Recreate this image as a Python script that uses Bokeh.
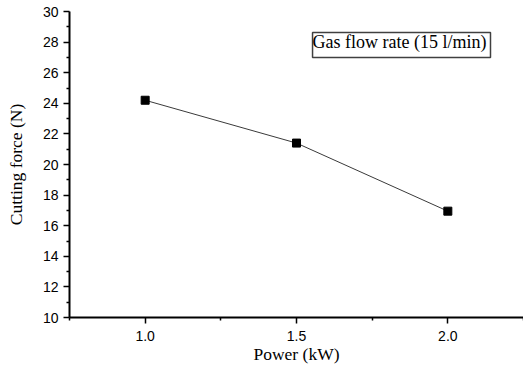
from bokeh.plotting import figure
from bokeh.models import FixedTicker, Label, Range1d
from bokeh.embed import file_html
from bokeh.resources import INLINE

# Data
power_kw = [1.0, 1.5, 2.0]
cutting_force = [24.2, 21.4, 16.95]
x_ticks = [1.0, 1.5, 2.0]
x_tick_labels = ["1.0", "1.5", "2.0"]
x_minor_ticks = [0.75, 1.25, 1.75, 2.25]
y_ticks = [10, 12, 14, 16, 18, 20, 22, 24, 26, 28, 30]
x_title = "Power (kW)"
y_title = "Cutting force (N)"
legend_text = "Gas flow rate (15 l/min)"

p = figure(width=523, height=366, output_backend="svg", toolbar_location=None,
           x_range=Range1d(0.75, 2.25), y_range=Range1d(10, 30),
           min_border_left=69, min_border_right=0, min_border_top=11, min_border_bottom=48)
p.outline_line_color = None
p.xgrid.grid_line_color = None
p.ygrid.grid_line_color = None
p.background_fill_color = "white"

p.line(power_kw, cutting_force, line_color="#3a3a3a", line_width=1)
p.scatter(power_kw, cutting_force, marker="square", size=8, fill_color="black", line_color="black")

for ax in (p.xaxis[0], p.yaxis[0]):
    ax.axis_line_color = "black"
    ax.axis_line_width = 2
    ax.major_tick_line_color = "black"
    ax.major_tick_line_width = 1.5
    ax.minor_tick_line_color = "black"
    ax.minor_tick_line_width = 1.5
    ax.major_tick_in = 0
    ax.major_tick_out = 6
    ax.minor_tick_in = 0
    ax.minor_tick_out = 3
    ax.major_label_text_font = "Liberation Sans"
    ax.major_label_text_font_size = "14px"
    ax.major_label_text_color = "black"
    ax.axis_label_text_font = "Liberation Serif"
    ax.axis_label_text_font_style = "normal"
    ax.axis_label_text_font_size = "17.5px"
    ax.axis_label_text_color = "black"

p.xaxis.ticker = FixedTicker(ticks=x_ticks, minor_ticks=x_minor_ticks)
p.xaxis.major_label_overrides = {t: l for t, l in zip(x_ticks, x_tick_labels)}
p.yaxis.ticker = FixedTicker(ticks=y_ticks, minor_ticks=[v + 1 for v in y_ticks[:-1]])
p.xaxis.axis_label = x_title
p.yaxis.axis_label = y_title
p.xaxis.major_label_standoff = 7
p.yaxis.major_label_standoff = 5
p.xaxis.axis_label_standoff = 0
p.yaxis.axis_label_standoff = 14

lab = Label(x=1.553, y=28.63, text=legend_text, anchor="top_left",
            text_font="Liberation Serif", text_font_size="18px", text_color="black",
            border_line_color="#404040", border_line_width=1.5,
            background_fill_color="white", padding=(0, 4, 0, 5))
p.add_layout(lab)

open("out.html", "w").write(file_html(p, INLINE))
